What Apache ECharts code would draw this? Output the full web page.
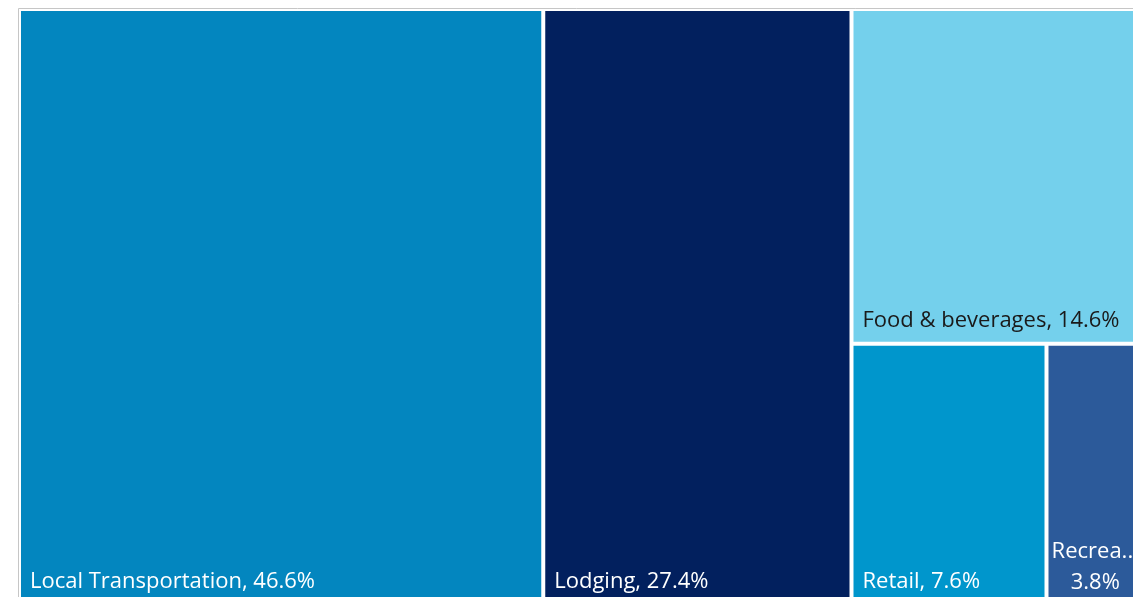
<!DOCTYPE html>
<html>
<head>
<meta charset="utf-8">
<style>
  html, body { margin: 0; padding: 0; background: #ffffff; }
  #chart { width: 1133px; height: 597px; }
</style>
<script src="https://cdn.jsdelivr.net/npm/echarts@6/dist/echarts.min.js"></script>
</head>
<body>
<div id="chart"></div>
<script>
const categories = ['Local Transportation', 'Lodging', 'Food & beverages', 'Retail', 'Recreation'];
const shares = [46.6, 27.4, 14.6, 7.6, 3.8];
const colors = ['#0386bf', '#02205e', '#74d0ec', '#0096cc', '#2c5a9a'];
const labelColors = ['#ffffff', '#ffffff', '#1a1a1a', '#ffffff', '#ffffff'];

const FONT = 'Open Sans';
const FS = 22;

const chart = echarts.init(document.getElementById('chart'));

const data = categories.map((name, i) => {
  const item = {
    name: name,
    value: shares[i],
    itemStyle: { color: colors[i] },
    label: { color: labelColors[i] }
  };
  if (name === 'Recreation') {
    item.label = {
      show: true,
      position: ['50%', '100%'],
      align: 'center',
      verticalAlign: 'bottom',
      offset: [0, -4],
      width: 82,
      color: labelColors[i],
      fontFamily: FONT,
      fontSize: FS,
      lineHeight: 31,
      formatter: (p) => p.name + ',\n' + p.value.toFixed(1) + '%',
      overflow: 'truncate',
      ellipsis: '...'
    };
  }
  return item;
});

chart.setOption({
  animation: false,
  graphic: [{
    type: 'rect',
    shape: { x: 18.5, y: 8.5, width: 1200, height: 700 },
    style: { fill: 'none', stroke: '#c6c6c6', lineWidth: 1 },
    z: 0
  }],
  series: [{
    type: 'treemap',
    left: 21,
    top: 11,
    width: 1121,
    height: 592,
    squareRatio: 1,
    roam: false,
    nodeClick: false,
    breadcrumb: { show: false },
    sort: 'desc',
    itemStyle: { borderWidth: 0, gapWidth: 4, borderColor: '#ffffff' },
    levels: [{ itemStyle: { borderWidth: 0, gapWidth: 4, borderColor: '#ffffff' } }],
    label: {
      show: true,
      position: 'insideBottomLeft',
      distance: 9,
      padding: [0, 0, 1, 0],
      fontFamily: FONT,
      fontSize: FS,
      overflow: 'truncate',
      ellipsis: '...',
      formatter: (p) => p.name + ', ' + p.value.toFixed(1) + '%'
    },
    upperLabel: { show: false },
    data: data
  }]
});
</script>
</body>
</html>
